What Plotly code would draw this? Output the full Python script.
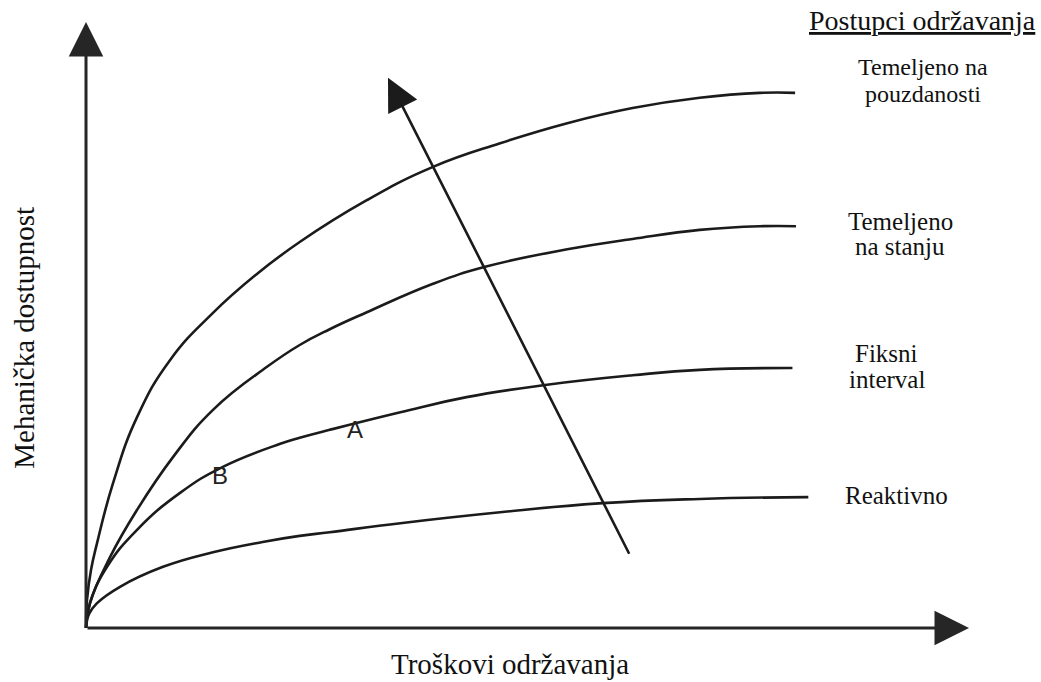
import plotly.graph_objects as go

# ---- data (conceptual units: cost 0..100, availability 0..100) ----
rel_x = [0, 0.11, 0.57, 1.25, 3.06, 5.78, 9.51, 14.38, 19.25, 24.2, 31.8, 39.3, 46.9, 54.5, 61.9, 69.5, 76.3, 80.3]
rel_y = [0, 4.6, 9.6, 14.0, 23.9, 34.8, 44.2, 52.0, 58.3, 63.7, 70.6, 76.1, 80.0, 83.3, 85.8, 87.5, 88.3, 88.3]

cond_x = [0, 0.45, 2.72, 5.78, 9.85, 14.38, 20.5, 24.2, 27.6, 31.8, 39.3, 45.2, 54.5, 61.9, 69.5, 76.3, 80.4]
cond_y = [0, 4.1, 11.7, 19.5, 28.2, 36.0, 43.1, 46.7, 49.3, 52.1, 56.8, 59.6, 62.5, 64.2, 65.7, 66.3, 66.3]

fix_x = [0, 0.45, 2.38, 5.78, 10.65, 15.5, 22.0, 24.2, 27.6, 35.6, 43.1, 52.0, 61.9, 69.5, 80.0]
fix_y = [0, 4.1, 10.1, 16.2, 22.3, 26.6, 30.4, 31.4, 32.7, 35.6, 38.1, 40.1, 41.7, 42.6, 42.9]

rea_x = [0, 0.34, 1.25, 3.85, 8.72, 14.38, 20.0, 24.2, 27.6, 35.6, 46.9, 58.5, 69.5, 81.8]
rea_y = [0, 2.3, 4.1, 6.8, 10.1, 12.5, 14.2, 15.2, 15.8, 17.3, 19.1, 20.6, 21.3, 21.6]

# trend arrow (tail -> head)
trend_tail = (61.6, 12.0)
trend_head = (34.2, 90.8)

# axis extents
axis_max_x = 100
axis_max_y = 100

title_text = "Postupci održavanja"
curve_labels = [
    ("Temeljeno na", 94.8, 92.6, 24),
    ("pouzdanosti", 94.8, 88.1, 24),
    ("Temeljeno", 92.2, 67.1, 25),
    ("na stanju", 92.2, 63.0, 25),
    ("Fiksni", 90.6, 45.3, 25),
    ("interval", 90.7, 41.0, 25),
    ("Reaktivno", 91.8, 21.9, 25),
]
point_labels = [("A", 30.5, 32.8), ("B", 15.2, 25.2)]
x_title = "Troškovi održavanja"
y_title = "Mehanička dostupnost"

# ---- figure ----
serif = "Liberation Serif, Times New Roman, serif"
sans = "Liberation Sans, Arial, sans-serif"
ink = "#1b1b1b"

fig = go.Figure()
for xs, ys in [(rel_x, rel_y), (cond_x, cond_y), (fix_x, fix_y), (rea_x, rea_y)]:
    fig.add_trace(go.Scatter(x=xs, y=ys, mode="lines",
                             line=dict(color=ink, width=2.6, shape="spline", smoothing=1.3),
                             hoverinfo="skip", showlegend=False))

ann = []
# axes with arrowheads
for (tx, ty) in [(0, axis_max_y), (axis_max_x, 0)]:
    ann.append(dict(x=tx, y=ty, ax=0, ay=0, xref="x", yref="y", axref="x", ayref="y",
                    text="", showarrow=True, arrowhead=2, arrowsize=2.3, arrowwidth=3,
                    arrowcolor="#262626", standoff=0, startstandoff=0))
# trend arrow
ann.append(dict(x=trend_head[0], y=trend_head[1], ax=trend_tail[0], ay=trend_tail[1],
                xref="x", yref="y", axref="x", ayref="y", text="", showarrow=True,
                arrowhead=2, arrowsize=2.5, arrowwidth=2.6, arrowcolor=ink,
                standoff=0, startstandoff=0))
# texts
ann.append(dict(x=94.7, y=100.2, xref="x", yref="y", text="<u>" + title_text + "</u>",
                showarrow=False, font=dict(family=serif, size=28, color="#111"),
                xanchor="center", yanchor="middle"))
for t, x, y, s in curve_labels:
    ann.append(dict(x=x, y=y, xref="x", yref="y", text=t, showarrow=False,
                    font=dict(family=serif, size=s, color="#111"),
                    xanchor="center", yanchor="middle"))
for t, x, y in point_labels:
    ann.append(dict(x=x, y=y, xref="x", yref="y", text=t, showarrow=False,
                    font=dict(family=sans, size=24, color="#222"),
                    xanchor="center", yanchor="middle"))
ann.append(dict(x=48.0, y=-5.86, xref="x", yref="y", text=x_title, showarrow=False,
                font=dict(family=serif, size=29, color="#111"),
                xanchor="center", yanchor="middle"))
ann.append(dict(x=-7.02, y=47.9, xref="x", yref="y", text=y_title, showarrow=False,
                textangle=-90, font=dict(family=serif, size=29, color="#111"),
                xanchor="center", yanchor="middle"))

fig.update_layout(
    width=1041, height=682,
    margin=dict(l=0, r=0, t=0, b=0),
    paper_bgcolor="white", plot_bgcolor="white",
    xaxis=dict(range=[-9.74, 108.15], visible=False, fixedrange=True),
    yaxis=dict(range=[-8.91, 103.63], visible=False, fixedrange=True),
    annotations=ann,
    showlegend=False,
)

fig.write_html("out.html",
               config={"displayModeBar": False, "staticPlot": True},
               post_script="document.body.style.margin='0';document.body.style.padding='0';"
                           "document.body.style.overflow='hidden';")
